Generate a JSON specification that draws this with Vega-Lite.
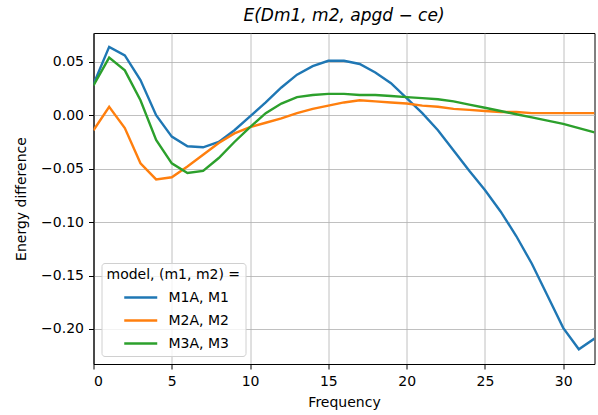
{
  "$schema": "https://vega.github.io/schema/vega-lite/v6.json",
  "width": 501,
  "height": 331,
  "autosize": {"type": "none"},
  "padding": {"left": 93.5, "top": 33, "right": 3.5, "bottom": 51},
  "title": {"text": "E(Dm1, m2, apgd − ce)", "font": "DejaVu Sans", "fontSize": 17, "fontStyle": "italic", "fontWeight": "normal", "color": "black", "offset": 8},
  "config": {
    "font": "DejaVu Sans",
    "view": {"stroke": "black", "strokeWidth": 1},
    "axis": {"labelFont": "DejaVu Sans", "labelFontSize": 14, "labelColor": "black", "titleFont": "DejaVu Sans", "titleFontSize": 14, "titleFontWeight": "normal", "titleColor": "black", "tickColor": "black", "tickSize": 5, "tickWidth": 1, "domainColor": "black", "gridColor": "#b0b0b0", "gridWidth": 0.8, "labelPadding": 5}
  },
  "data": {"values": [
    {"f":0,"m":"M1A, M1","v":0.029},{"f":1,"m":"M1A, M1","v":0.064},{"f":2,"m":"M1A, M1","v":0.056},{"f":3,"m":"M1A, M1","v":0.033},{"f":4,"m":"M1A, M1","v":0.0},{"f":5,"m":"M1A, M1","v":-0.020},{"f":6,"m":"M1A, M1","v":-0.029},{"f":7,"m":"M1A, M1","v":-0.030},{"f":8,"m":"M1A, M1","v":-0.025},{"f":9,"m":"M1A, M1","v":-0.014},{"f":10,"m":"M1A, M1","v":-0.001},{"f":11,"m":"M1A, M1","v":0.012},{"f":12,"m":"M1A, M1","v":0.026},{"f":13,"m":"M1A, M1","v":0.038},{"f":14,"m":"M1A, M1","v":0.046},{"f":15,"m":"M1A, M1","v":0.051},{"f":16,"m":"M1A, M1","v":0.051},{"f":17,"m":"M1A, M1","v":0.048},{"f":18,"m":"M1A, M1","v":0.040},{"f":19,"m":"M1A, M1","v":0.030},{"f":20,"m":"M1A, M1","v":0.016},{"f":21,"m":"M1A, M1","v":0.002},{"f":22,"m":"M1A, M1","v":-0.014},{"f":23,"m":"M1A, M1","v":-0.033},{"f":24,"m":"M1A, M1","v":-0.052},{"f":25,"m":"M1A, M1","v":-0.070},{"f":26,"m":"M1A, M1","v":-0.090},{"f":27,"m":"M1A, M1","v":-0.113},{"f":28,"m":"M1A, M1","v":-0.139},{"f":29,"m":"M1A, M1","v":-0.169},{"f":30,"m":"M1A, M1","v":-0.199},{"f":31,"m":"M1A, M1","v":-0.219},{"f":32,"m":"M1A, M1","v":-0.209},
    {"f":0,"m":"M2A, M2","v":-0.014},{"f":1,"m":"M2A, M2","v":0.008},{"f":2,"m":"M2A, M2","v":-0.012},{"f":3,"m":"M2A, M2","v":-0.045},{"f":4,"m":"M2A, M2","v":-0.060},{"f":5,"m":"M2A, M2","v":-0.058},{"f":6,"m":"M2A, M2","v":-0.048},{"f":7,"m":"M2A, M2","v":-0.037},{"f":8,"m":"M2A, M2","v":-0.026},{"f":9,"m":"M2A, M2","v":-0.017},{"f":10,"m":"M2A, M2","v":-0.011},{"f":11,"m":"M2A, M2","v":-0.007},{"f":12,"m":"M2A, M2","v":-0.003},{"f":13,"m":"M2A, M2","v":0.002},{"f":14,"m":"M2A, M2","v":0.006},{"f":15,"m":"M2A, M2","v":0.009},{"f":16,"m":"M2A, M2","v":0.012},{"f":17,"m":"M2A, M2","v":0.014},{"f":18,"m":"M2A, M2","v":0.013},{"f":19,"m":"M2A, M2","v":0.012},{"f":20,"m":"M2A, M2","v":0.011},{"f":21,"m":"M2A, M2","v":0.009},{"f":22,"m":"M2A, M2","v":0.008},{"f":23,"m":"M2A, M2","v":0.006},{"f":24,"m":"M2A, M2","v":0.005},{"f":25,"m":"M2A, M2","v":0.004},{"f":26,"m":"M2A, M2","v":0.003},{"f":27,"m":"M2A, M2","v":0.003},{"f":28,"m":"M2A, M2","v":0.002},{"f":29,"m":"M2A, M2","v":0.002},{"f":30,"m":"M2A, M2","v":0.002},{"f":31,"m":"M2A, M2","v":0.002},{"f":32,"m":"M2A, M2","v":0.002},
    {"f":0,"m":"M3A, M3","v":0.028},{"f":1,"m":"M3A, M3","v":0.054},{"f":2,"m":"M3A, M3","v":0.042},{"f":3,"m":"M3A, M3","v":0.014},{"f":4,"m":"M3A, M3","v":-0.023},{"f":5,"m":"M3A, M3","v":-0.045},{"f":6,"m":"M3A, M3","v":-0.054},{"f":7,"m":"M3A, M3","v":-0.052},{"f":8,"m":"M3A, M3","v":-0.040},{"f":9,"m":"M3A, M3","v":-0.025},{"f":10,"m":"M3A, M3","v":-0.011},{"f":11,"m":"M3A, M3","v":0.002},{"f":12,"m":"M3A, M3","v":0.011},{"f":13,"m":"M3A, M3","v":0.017},{"f":14,"m":"M3A, M3","v":0.019},{"f":15,"m":"M3A, M3","v":0.020},{"f":16,"m":"M3A, M3","v":0.020},{"f":17,"m":"M3A, M3","v":0.019},{"f":18,"m":"M3A, M3","v":0.019},{"f":19,"m":"M3A, M3","v":0.018},{"f":20,"m":"M3A, M3","v":0.017},{"f":21,"m":"M3A, M3","v":0.016},{"f":22,"m":"M3A, M3","v":0.015},{"f":23,"m":"M3A, M3","v":0.013},{"f":24,"m":"M3A, M3","v":0.010},{"f":25,"m":"M3A, M3","v":0.007},{"f":26,"m":"M3A, M3","v":0.004},{"f":27,"m":"M3A, M3","v":0.001},{"f":28,"m":"M3A, M3","v":-0.002},{"f":29,"m":"M3A, M3","v":-0.005},{"f":30,"m":"M3A, M3","v":-0.008},{"f":31,"m":"M3A, M3","v":-0.012},{"f":32,"m":"M3A, M3","v":-0.016}
  ]},
  "mark": {"type": "line", "strokeWidth": 2.4, "clip": true},
  "encoding": {
    "x": {"field": "f", "type": "quantitative", "title": "Frequency", "scale": {"domain": [0, 32], "nice": false, "zero": false}, "axis": {"values": [0, 5, 10, 15, 20, 25, 30], "format": "d", "titlePadding": 7}},
    "y": {"field": "v", "type": "quantitative", "title": "Energy difference", "scale": {"domain": [-0.2328, 0.077], "nice": false, "zero": false}, "axis": {"values": [-0.2, -0.15, -0.1, -0.05, 0, 0.05], "format": ".2f", "titlePadding": 12}},
    "color": {"field": "m", "type": "nominal", "title": "model, (m1, m2) =", "scale": {"domain": ["M1A, M1", "M2A, M2", "M3A, M3"], "range": ["#1f77b4", "#ff7f0e", "#2ca02c"]},
      "legend": {"orient": "bottom-left", "offset": 8, "titleFont": "DejaVu Sans", "titleFontSize": 14, "titleFontWeight": "normal", "titleColor": "black", "labelFont": "DejaVu Sans", "labelFontSize": 14, "labelColor": "black", "symbolType": "M1,0H5", "symbolSize": 272, "symbolStrokeWidth": 2.4, "rowPadding": 6, "labelOffset": 43, "padding": 5, "fillColor": "rgba(255,255,255,0.8)", "strokeColor": "#d0d0d0", "cornerRadius": 3, "titlePadding": 6}}
  }
}
